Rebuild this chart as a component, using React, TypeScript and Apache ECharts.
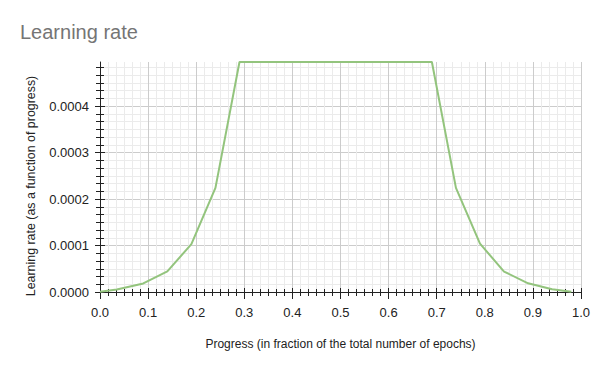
import React, { useEffect, useRef } from "react";
import * as echarts from "echarts";

const progress = [0.0, 0.035, 0.09, 0.14, 0.19, 0.24, 0.29, 0.34, 0.39, 0.44, 0.49, 0.54, 0.59, 0.64, 0.69, 0.74, 0.79, 0.84, 0.89, 0.94, 0.98];
const learningRate = [0.0000006, 0.0000052, 0.0000185, 0.0000445, 0.000103, 0.000224, 0.000495, 0.000495, 0.000495, 0.000495, 0.000495, 0.000495, 0.000495, 0.000495, 0.000495, 0.000224, 0.000104, 0.0000440, 0.0000187, 0.0000058, 0.0000006];
const yTickValues = [0, 0.0001, 0.0002, 0.0003, 0.0004];
const yMax = 0.000495;

const FONT = "Arial, 'Liberation Sans', sans-serif";

export default function App() {
  const ref = useRef<HTMLDivElement>(null);
  useEffect(() => {
    if (!ref.current) return;
    document.body.style.margin = "0";
    const chart = echarts.init(ref.current, undefined, { renderer: "svg" });
    const data = progress.map((p, i) => [p, learningRate[i]]);
    const hidden = { show: false };
    chart.setOption({
      animation: false,
      backgroundColor: "#ffffff",
      title: {
        text: "Learning rate",
        left: 15,
        top: 17,
        textStyle: { fontSize: 20, fontWeight: "normal", color: "#757575", fontFamily: FONT },
      },
      grid: { left: 100, right: 19, top: 62, bottom: 79, containLabel: false },
      xAxis: [
        {
          type: "value",
          position: "bottom",
          min: 0,
          max: 1,
          interval: 0.1,
          name: "Progress (in fraction of the total number of epochs)",
          nameLocation: "middle",
          nameGap: 46,
          nameTextStyle: { fontSize: 12, color: "#222", fontFamily: FONT },
          axisLine: { show: true, lineStyle: { color: "#222", width: 1 } },
          axisTick: { show: true, length: 7, lineStyle: { color: "#222" } },
          minorTick: { show: true, splitNumber: 6, length: 4, lineStyle: { color: "#222" } },
          axisLabel: {
            margin: 14,
            fontSize: 13,
            color: "#222",
            fontFamily: FONT,
            formatter: (v: number) => v.toFixed(1),
          },
          splitLine: { show: true, lineStyle: { color: "#cccccc" } },
          minorSplitLine: { show: true, lineStyle: { color: "#ebebeb" } },
        },
        {
          type: "value",
          position: "bottom",
          min: 0,
          max: 1,
          interval: 0.1,
          axisLine: hidden,
          axisTick: { show: true, inside: true, length: 4, lineStyle: { color: "#222" } },
          minorTick: { show: true, splitNumber: 6, length: 3, lineStyle: { color: "#222" } },
          axisLabel: hidden,
          splitLine: hidden,
          minorSplitLine: hidden,
        },
      ],
      yAxis: [
        {
          type: "value",
          position: "left",
          min: 0,
          max: yMax,
          interval: 0.0001,
          name: "Learning rate (as a function of progress)",
          nameLocation: "middle",
          nameGap: 63,
          nameTextStyle: { fontSize: 12.4, color: "#222", fontFamily: FONT, padding: [0, 18, 0, 0] },
          axisLine: { show: true, lineStyle: { color: "#222", width: 1 } },
          axisTick: { show: true, length: 5, customValues: yTickValues, lineStyle: { color: "#222" } },
          minorTick: { show: true, splitNumber: 6, length: 4, lineStyle: { color: "#222" } },
          axisLabel: {
            margin: 11,
            fontSize: 13,
            color: "#222",
            fontFamily: FONT,
            customValues: yTickValues,
            formatter: (v: number) => v.toFixed(4),
          },
          splitLine: { show: true, lineStyle: { color: "#cccccc" } },
          minorSplitLine: { show: true, lineStyle: { color: "#ebebeb" } },
        },
        {
          type: "value",
          position: "left",
          min: 0,
          max: yMax,
          interval: 0.0001,
          axisLine: hidden,
          axisTick: { show: true, inside: true, length: 5, customValues: yTickValues, lineStyle: { color: "#222" } },
          minorTick: { show: true, splitNumber: 6, length: 4, lineStyle: { color: "#222" } },
          axisLabel: hidden,
          splitLine: hidden,
          minorSplitLine: hidden,
        },
      ],
      series: [
        {
          type: "line",
          data,
          xAxisIndex: 0,
          yAxisIndex: 0,
          showSymbol: false,
          symbol: "none",
          lineStyle: { color: "#93c47d", width: 2 },
          z: 5,
        },
      ],
    });
    return () => chart.dispose();
  }, []);
  return <div ref={ref} style={{ width: 600, height: 371 }} />;
}
